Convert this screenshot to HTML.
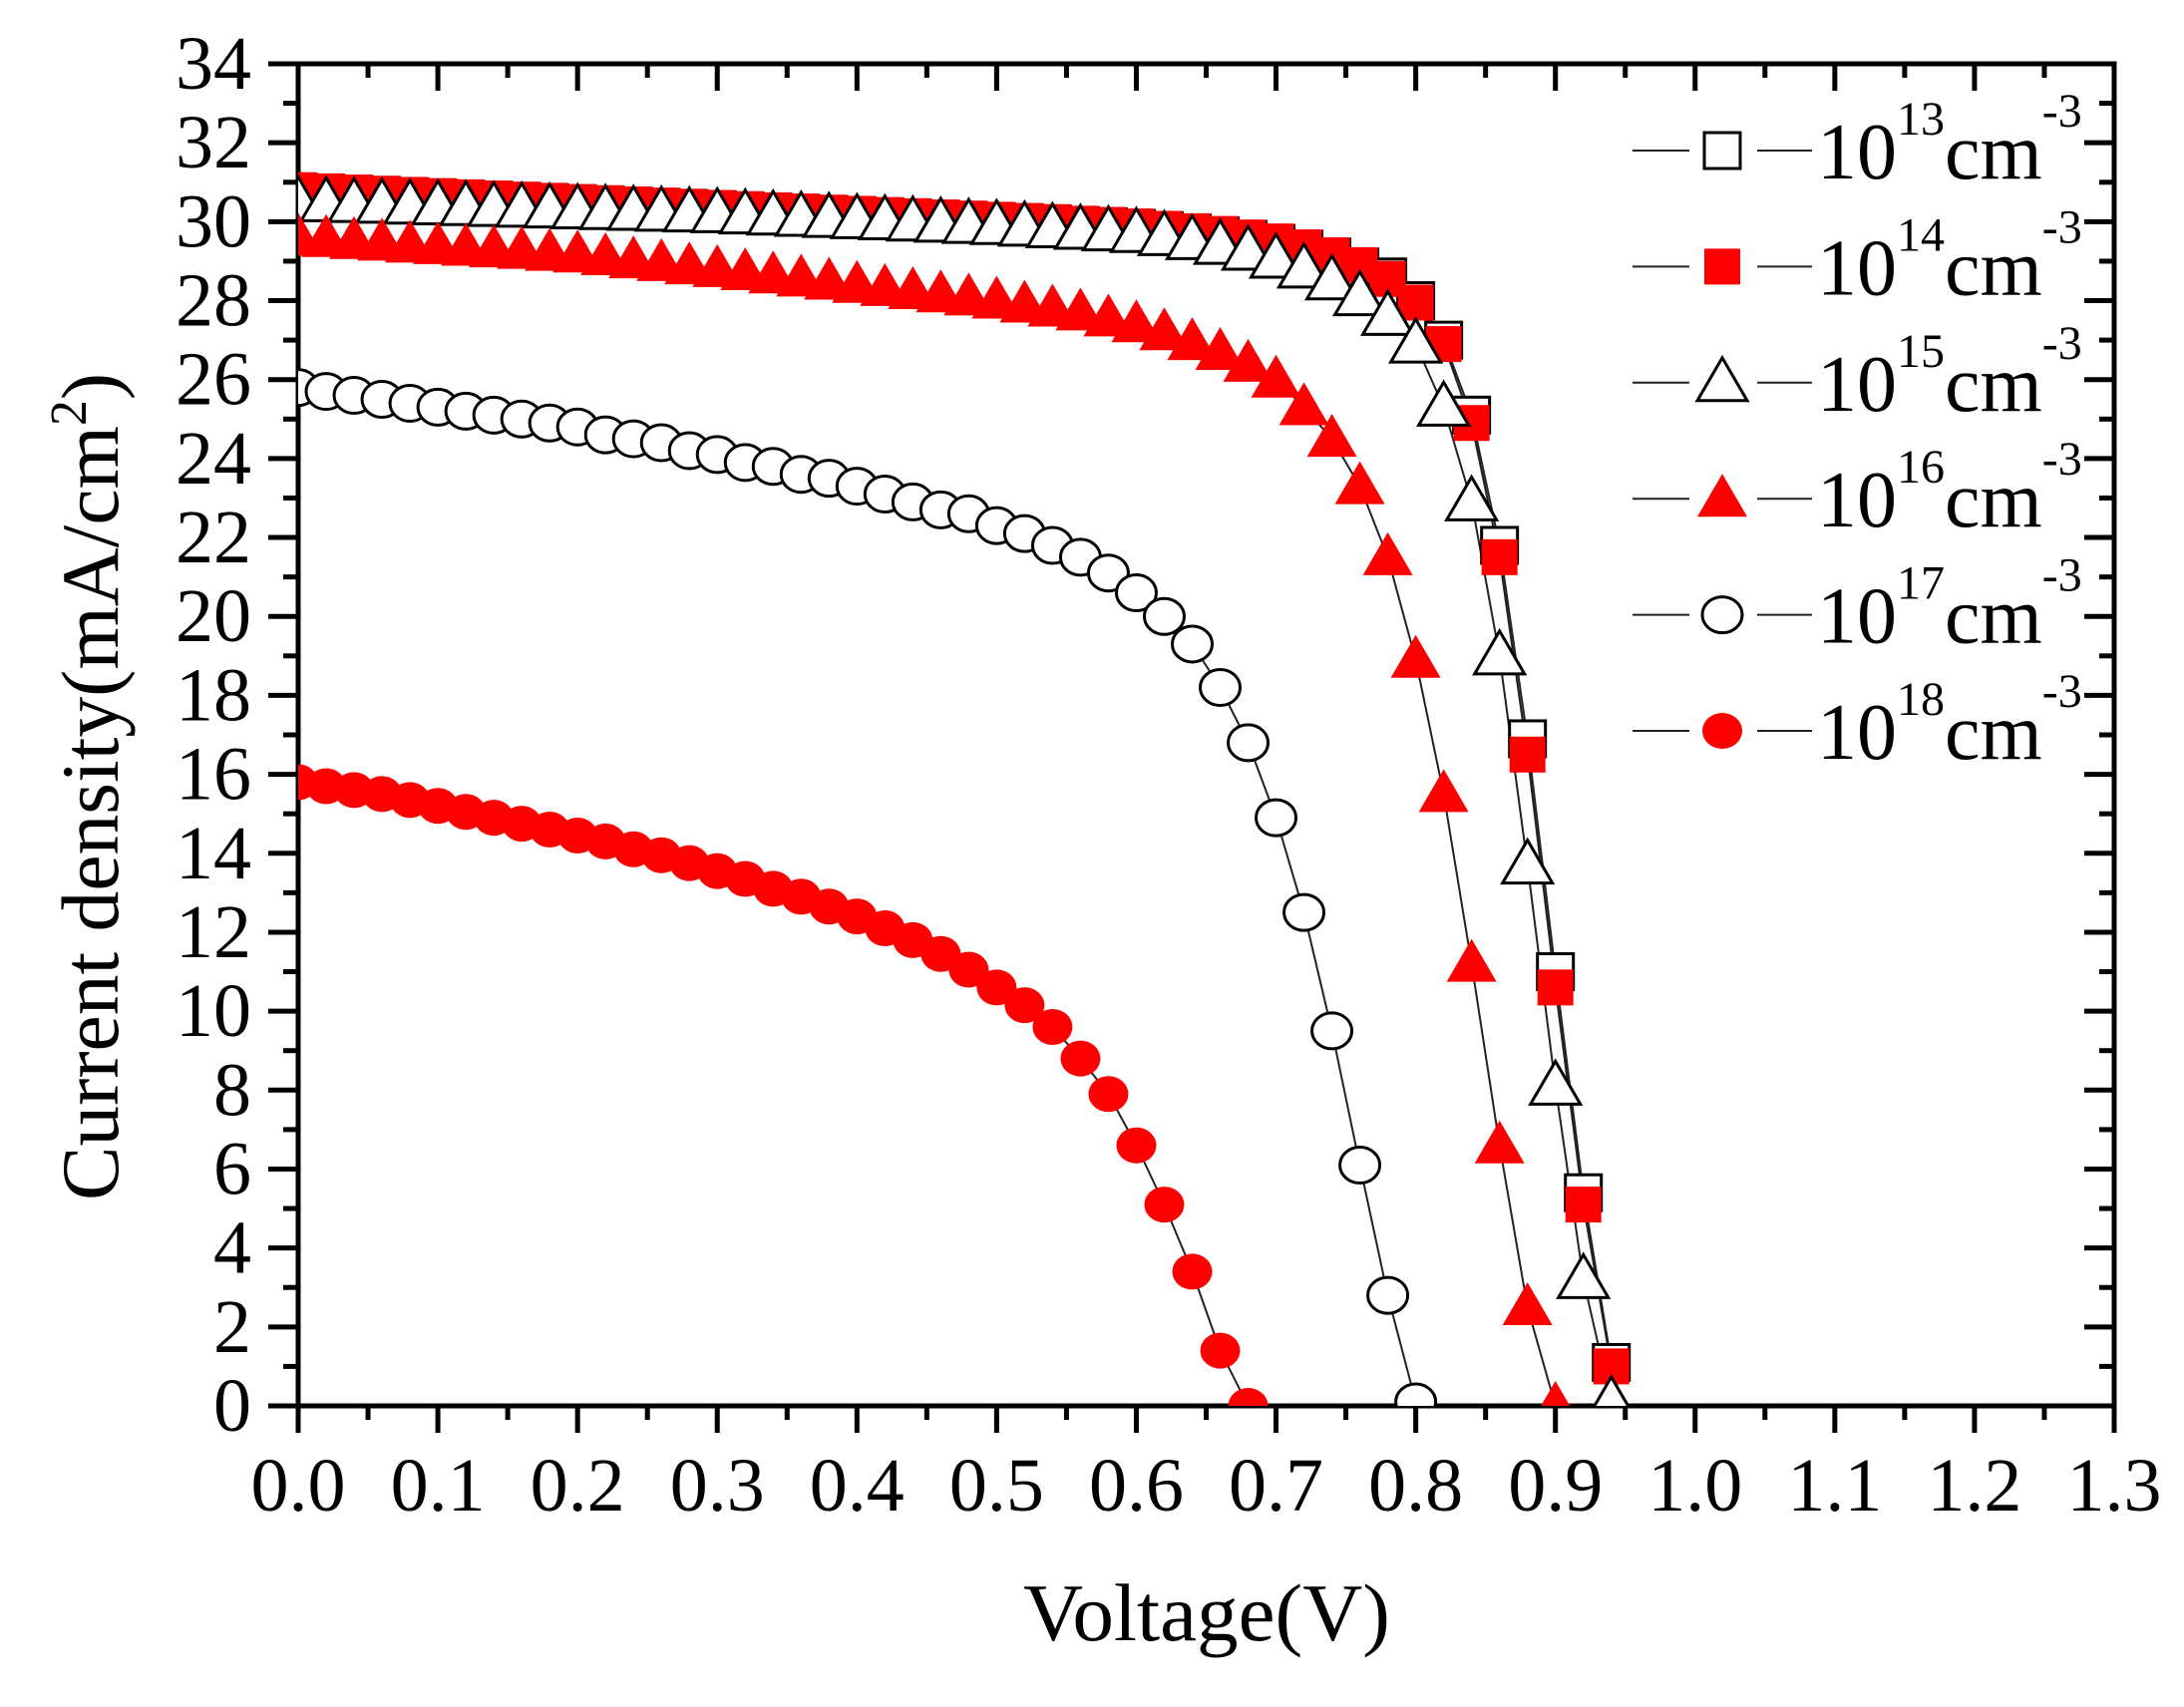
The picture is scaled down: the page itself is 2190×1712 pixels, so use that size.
<!DOCTYPE html>
<html><head><meta charset="utf-8"><style>
html,body{margin:0;padding:0;background:#fff;}
svg{display:block;font-family:"Liberation Serif","DejaVu Serif",serif;}
</style></head><body>
<svg id="chart" width="2190" height="1712" viewBox="0 0 2190 1712" xmlns="http://www.w3.org/2000/svg">
<rect width="2190" height="1712" fill="#fff"/>
<g id="grid-ticks"></g>
<g id="lines"></g>
<g id="marks"></g>
<g id="legend"></g>
<text transform="translate(118,789) rotate(-90)" text-anchor="middle" font-size="82" textLength="830" lengthAdjust="spacingAndGlyphs">Current density(mA/cm<tspan dy="-32" font-size="52">2</tspan><tspan dy="32">)</tspan></text>
<text x="1210" y="1645" text-anchor="middle" font-size="82" textLength="368" lengthAdjust="spacingAndGlyphs">Voltage(V)</text>
</svg>
<script>
const voltage = [0,0.02,0.04,0.06,0.08,0.1,0.12,0.14,0.16,0.18,0.2,0.22,0.24,0.26,0.28,0.3,0.32,0.34,0.36,0.38,0.4,0.42,0.44,0.46,0.48,0.5,0.52,0.54,0.56,0.58,0.6,0.62,0.64,0.66,0.68,0.7,0.72,0.74,0.76,0.78,0.8,0.82,0.84,0.86,0.88,0.9,0.92,0.94];
const j13 = [30.75,30.72,30.69,30.66,30.63,30.6,30.57,30.54,30.51,30.48,30.45,30.42,30.39,30.36,30.33,30.3,30.27,30.24,30.21,30.18,30.15,30.12,30.09,30.06,30.03,30.0,29.97,29.94,29.9,29.87,29.83,29.77,29.71,29.64,29.55,29.45,29.3,29.1,28.85,28.6,28.0,27.0,25.1,21.8,16.9,11.0,5.4,1.1];
const j14 = [30.8,30.77,30.74,30.71,30.68,30.65,30.62,30.59,30.56,30.53,30.5,30.47,30.44,30.41,30.38,30.35,30.32,30.29,30.26,30.23,30.2,30.17,30.14,30.11,30.08,30.05,30.02,29.99,29.95,29.92,29.88,29.82,29.76,29.69,29.6,29.5,29.35,29.15,28.9,28.55,27.95,26.9,24.9,21.5,16.5,10.6,5.1,1.0];
const j15 = [30.5,30.48,30.46,30.44,30.42,30.4,30.38,30.36,30.34,30.32,30.3,30.28,30.26,30.24,30.22,30.2,30.17,30.14,30.11,30.08,30.05,30.02,29.99,29.96,29.93,29.9,29.86,29.82,29.78,29.74,29.7,29.62,29.52,29.4,29.25,29.05,28.8,28.5,28.1,27.6,26.9,25.3,22.9,19.0,13.7,8.1,3.2,0.1];
const j16 = [29.6,29.56,29.51,29.47,29.42,29.38,29.34,29.3,29.26,29.21,29.17,29.1,29.02,28.95,28.87,28.8,28.72,28.64,28.56,28.48,28.4,28.32,28.24,28.16,28.08,28.0,27.9,27.8,27.7,27.55,27.4,27.2,26.95,26.7,26.4,26.0,25.3,24.5,23.3,21.5,18.9,15.5,11.2,6.6,2.5,0];
const j17 = [25.8,25.7,25.6,25.5,25.4,25.3,25.2,25.1,25.0,24.9,24.8,24.6,24.5,24.4,24.2,24.1,23.9,23.8,23.6,23.5,23.3,23.1,22.9,22.7,22.6,22.3,22.1,21.8,21.5,21.1,20.6,20.0,19.3,18.2,16.8,14.9,12.5,9.5,6.1,2.8,0.1];
const j18 = [15.8,15.7,15.6,15.5,15.35,15.2,15.05,14.9,14.75,14.6,14.45,14.3,14.1,13.95,13.75,13.55,13.35,13.1,12.9,12.65,12.4,12.1,11.8,11.45,11.05,10.6,10.15,9.6,8.8,7.9,6.6,5.1,3.4,1.4,0];
const xTicks = ["0.0","0.1","0.2","0.3","0.4","0.5","0.6","0.7","0.8","0.9","1.0","1.1","1.2","1.3"];
const yTicks = ["0","2","4","6","8","10","12","14","16","18","20","22","24","26","28","30","32","34"];
const legendExp = ["13","14","15","16","17","18"];

const NS="http://www.w3.org/2000/svg";
const L=299,R=2120,T=64,B=1410;
const X0=0,X1=1.3,Y0=0,Y1=34;
const sx=v=>L+(v-X0)/(X1-X0)*(R-L);
const sy=v=>B-(v-Y0)/(Y1-Y0)*(B-T);
function mk(tag,attrs,parent){const e=document.createElementNS(NS,tag);for(const k in attrs)e.setAttribute(k,attrs[k]);parent.appendChild(e);return e;}

const ax=document.getElementById('grid-ticks');
const frame=mk('rect',{x:L,y:T,width:R-L,height:B-T,fill:'none',stroke:'#000','stroke-width':5},ax);


xTicks.forEach((t,i)=>{
  const v=parseFloat(t),x=sx(v);
  mk('line',{x1:x,y1:B,x2:x,y2:B+27,stroke:'#000','stroke-width':5},ax);
  mk('line',{x1:x,y1:T,x2:x,y2:T+27,stroke:'#000','stroke-width':5},ax);
  if(i<xTicks.length-1){const xm=sx(v+0.05);
    mk('line',{x1:xm,y1:B,x2:xm,y2:B+14,stroke:'#000','stroke-width':5},ax);
    mk('line',{x1:xm,y1:T,x2:xm,y2:T+14,stroke:'#000','stroke-width':5},ax);}
  const lb=mk('text',{x:x,y:1515,'text-anchor':'middle','font-size':76},ax);
  lb.textContent=t;
  
  
});
yTicks.forEach((t,i)=>{
  const v=parseFloat(t),y=sy(v);
  mk('line',{x1:L-30,y1:y,x2:L,y2:y,stroke:'#000','stroke-width':5},ax);
  mk('line',{x1:R-30,y1:y,x2:R,y2:y,stroke:'#000','stroke-width':5},ax);
  if(i<yTicks.length-1){const ym=sy(v+1);
    mk('line',{x1:L-15,y1:ym,x2:L,y2:ym,stroke:'#000','stroke-width':5},ax);
    mk('line',{x1:R-15,y1:ym,x2:R,y2:ym,stroke:'#000','stroke-width':5},ax);}
  const lb=mk('text',{x:252,y:y+25,'text-anchor':'end','font-size':76},ax);
  lb.textContent=t;
  
  
});

const series=[
 {d:j13,m:'square',fill:'#fff',name:'series-1e13'},
 {d:j14,m:'square',fill:'#f00',name:'series-1e14'},
 {d:j15,m:'tri',fill:'#fff',name:'series-1e15'},
 {d:j16,m:'tri',fill:'#f00',name:'series-1e16'},
 {d:j17,m:'circle',fill:'#fff',name:'series-1e17'},
 {d:j18,m:'circle',fill:'#f00',name:'series-1e18'}];
function marker(parent,type,fill,x,y){
  const stroke=fill==='#fff'?'#000':'none';
  let e;
  if(type==='square') e=mk('rect',{x:x-18,y:y-18,width:36,height:36,fill:fill,stroke:stroke,'stroke-width':3},parent);
  else if(type==='tri') e=mk('polygon',{points:`${x},${y-25} ${x-25},${y+18} ${x+25},${y+18}`,fill:fill,stroke:stroke,'stroke-width':3},parent);
  else e=mk('ellipse',{cx:x,cy:y,rx:20,ry:18,fill:fill,stroke:stroke,'stroke-width':3},parent);
  return e;
}
const lg=document.getElementById('lines'),mg=document.getElementById('marks');
const clip=mk('clipPath',{id:'pc'},document.getElementById('chart'));
mk('rect',{x:L,y:T-30,width:R-L,height:B-T+30},clip);
mg.setAttribute('clip-path','url(#pc)');
series.forEach(s=>{
  const pts=s.d.map((v,i)=>sx(voltage[i])+','+sy(v)).join(' ');
  const pl=mk('polyline',{points:pts,fill:'none',stroke:'#222','stroke-width':2},lg);
  
  
});
series.forEach(s=>{
  const g=mk('g',{},mg);
  
  
  s.d.forEach((v,i)=>{
    const e=marker(g,s.m,s.fill,sx(voltage[i]),sy(v));
    
    
  });
});
const leg=document.getElementById('legend');
legendExp.forEach((ex,i)=>{
  const base=179+i*116.4, cy=base-28;
  const g=mk('g',{},leg);
  
  
  mk('line',{x1:1637,y1:cy,x2:1694,y2:cy,stroke:'#222','stroke-width':2},g);
  mk('line',{x1:1762,y1:cy,x2:1817,y2:cy,stroke:'#222','stroke-width':2},g);
  marker(g,series[i].m,series[i].fill,1727,cy);
  const t=mk('text',{x:1822,y:base,'font-size':80},g);
  t.innerHTML='10<tspan dy="-44" font-size="48">'+ex+'</tspan><tspan dy="44" font-size="80">cm</tspan><tspan dy="-52" font-size="48">-3</tspan>';
});
</script>
</body></html>
